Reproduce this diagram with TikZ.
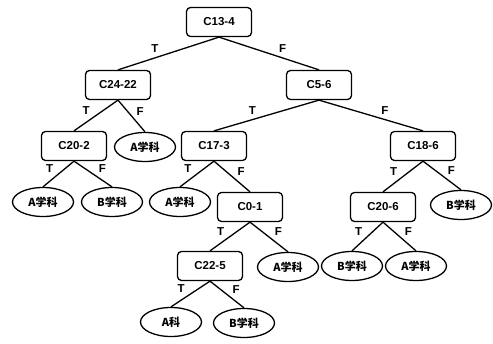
\documentclass[tikz,border=0pt]{standalone}
\usepackage{fontspec}
\setmainfont{Liberation Sans}
\newfontfamily\cjk{Noto Sans CJK SC}
\usetikzlibrary{shapes.geometric}
\begin{document}
\begin{tikzpicture}[x=1pt,y=-1pt,line width=1.3pt,line join=round,
        font=\fontsize{11.5}{13}\selectfont\bfseries,
        cond/.style={draw,rounded corners=4pt,minimum width=65pt,minimum height=29pt,inner sep=1pt},
        leaf/.style={draw,ellipse,minimum width=61pt,minimum height=29pt,inner sep=0pt,
            font=\fontsize{11}{13}\selectfont\cjk\bfseries},
        yes/.style={auto,swap,pos=0.57,inner sep=2.5pt},
        no/.style={auto,pos=0.57,inner sep=2.5pt}]
        \useasboundingbox (0,0) rectangle (493,344);
        % tests
        \node[cond] (c134) at (219,22) {C13-4};
        \node[cond] (c2422) at (118,85) {C24-22};
        \node[cond] (c56) at (319,85) {C5-6};
        \node[cond] (c202) at (74,146) {C20-2};
        \node[cond] (c173) at (214,146) {C17-3};
        \node[cond] (c186) at (423,146) {C18-6};
        \node[cond] (c01) at (250,207) {C0-1};
        \node[cond] (c206) at (383,207) {C20-6};
        \node[cond] (c225) at (210,266) {C22-5};
        % leaves
        \node[leaf] (a1) at (145,147) {A学科};
        \node[leaf] (a2) at (43,202) {A学科};
        \node[leaf] (b1) at (112,202) {B学科};
        \node[leaf] (a3) at (180,202) {A学科};
        \node[leaf] (b2) at (461,205) {B学科};
        \node[leaf] (a4) at (288,267) {A学科};
        \node[leaf] (b3) at (352,266) {B学科};
        \node[leaf] (a5) at (416,266) {A学科};
        \node[leaf] (a6) at (171,322) {A科};
        \node[leaf] (b4) at (244,323) {B学科};
        % branches
        \foreach \p/\c/\s/\t in {c134/c2422/yes/T, c134/c56/no/F,
            c2422/c202/yes/T, c2422/a1/no/F, c56/c173/yes/T, c56/c186/no/F,
            c202/a2/yes/T, c202/b1/no/F, c173/a3/yes/T, c173/c01/no/F,
            c186/c206/yes/T, c186/b2/no/F, c01/c225/yes/T, c01/a4/no/F,
            c206/b3/yes/T, c206/a5/no/F, c225/a6/yes/T, c225/b4/no/F}
            \draw (\p.south) -- node[\s]{\t} (\c.north);
\end{tikzpicture}
\end{document}
